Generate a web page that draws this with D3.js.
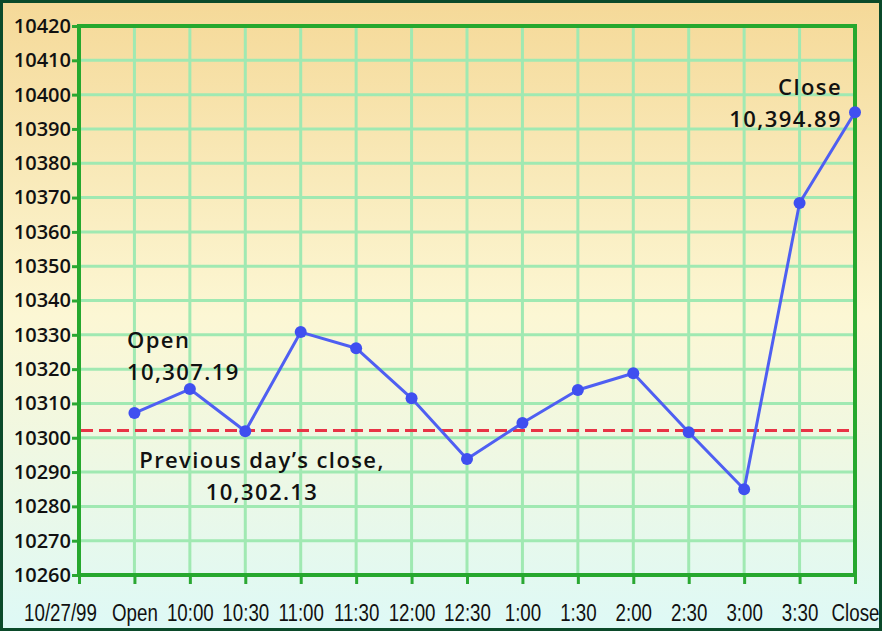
<!DOCTYPE html>
<html>
<head>
<meta charset="utf-8">
<script src="https://cdn.jsdelivr.net/npm/d3@7"></script>
<style>
  body { margin: 0; padding: 0; }
  svg { display: block; }
</style>
</head>
<body>
<div id="chart"></div>
<script>
const W = 882, H = 631
const MARGIN = { TOP: 26, BOTTOM: 56, LEFT: 79, RIGHT: 27 }
const NARROW = 0.78  // horizontal squeeze for the condensed time labels

// x categories (first one is the date label at the axis origin)
const timeLabels = ['10/27/99', 'Open', '10:00', '10:30', '11:00', '11:30', '12:00', '12:30',
                    '1:00', '1:30', '2:00', '2:30', '3:00', '3:30', 'Close']
const pointLabels = timeLabels.slice(1)
const dowValues = [10307.19, 10314.2, 10301.9, 10330.8, 10326.1, 10311.5, 10293.8,
                   10304.3, 10313.9, 10318.8, 10301.6, 10285.0, 10368.4, 10394.89]
const prevClose = 10302.13
const yTicks = d3.range(10260, 10421, 10)

const svg = d3.select('#chart')
    .append('svg')
        .attr('width', W)
        .attr('height', H)

// background gradient
const grad = svg.append('defs').append('linearGradient')
    .attr('id', 'bg')
    .attr('x1', 0).attr('y1', 0).attr('x2', 0).attr('y2', 1)
grad.append('stop').attr('offset', '0%').attr('stop-color', '#f5d998')
grad.append('stop').attr('offset', '50%').attr('stop-color', '#fcf7d4')
grad.append('stop').attr('offset', '100%').attr('stop-color', '#def9f6')

svg.append('rect')
    .attr('x', 1.5).attr('y', 1.5)
    .attr('width', W - 3).attr('height', H - 3)
    .attr('fill', 'url(#bg)')
    .attr('stroke', '#0b4a2a')
    .attr('stroke-width', 3)

const x = d3.scalePoint()
    .domain(timeLabels)
    .range([MARGIN.LEFT, W - MARGIN.RIGHT])

const y = d3.scaleLinear()
    .domain([10260, 10420])
    .range([H - MARGIN.BOTTOM, MARGIN.TOP])

const plotW = W - MARGIN.RIGHT - MARGIN.LEFT
const plotH = H - MARGIN.BOTTOM - MARGIN.TOP

// grid lines
const grid = svg.append('g')
    .attr('stroke', '#a0e9b2')
    .attr('stroke-width', 3)
grid.selectAll('.hgrid')
    .data(yTicks)
    .enter().append('line')
        .attr('x1', MARGIN.LEFT).attr('x2', W - MARGIN.RIGHT)
        .attr('y1', d => y(d)).attr('y2', d => y(d))
grid.selectAll('.vgrid')
    .data(pointLabels)
    .enter().append('line')
        .attr('x1', d => x(d)).attr('x2', d => x(d))
        .attr('y1', MARGIN.TOP).attr('y2', H - MARGIN.BOTTOM)

// axes
const xAxisGroup = svg.append('g')
    .attr('transform', `translate(0, ${ H - MARGIN.BOTTOM })`)
    .call(d3.axisBottom(x).tickSize(9))
const yAxisGroup = svg.append('g')
    .attr('transform', `translate(${ MARGIN.LEFT }, 0)`)
    .call(d3.axisLeft(y).tickValues(yTicks).tickFormat(d3.format('d')).tickSize(7).tickPadding(1))

svg.selectAll('.domain').remove()
svg.selectAll('.tick line')
    .attr('stroke', '#2aa832')
    .attr('stroke-width', 3)

xAxisGroup.selectAll('text')
    .attr('fill', '#111')
    .style('font-family', "'Liberation Sans', Arial, sans-serif")
    .style('font-size', '24px')
    .attr('y', 46)
    .attr('dy', 0)
    .attr('transform', `scale(${ NARROW }, 1)`)
xAxisGroup.selectAll('.tick')
    .filter(d => d === timeLabels[0])
    .select('text')
        .attr('dx', -19 / NARROW)

yAxisGroup.selectAll('text')
    .attr('fill', '#111')
    .style('font-family', "'Open Sans', sans-serif")
    .style('font-weight', 600)
    .style('font-size', '20px')

// frame
svg.append('rect')
    .attr('x', MARGIN.LEFT).attr('y', MARGIN.TOP)
    .attr('width', plotW).attr('height', plotH)
    .attr('fill', 'none')
    .attr('stroke', '#26a82e')
    .attr('stroke-width', 4)

// previous close
svg.append('line')
    .attr('x1', MARGIN.LEFT + 2).attr('x2', W - MARGIN.RIGHT - 2)
    .attr('y1', y(prevClose)).attr('y2', y(prevClose))
    .attr('stroke', '#e83446')
    .attr('stroke-width', 3)
    .attr('stroke-dasharray', '12,6')

// data line
const line = d3.line()
    .x((d, i) => x(pointLabels[i]))
    .y(d => y(d))

svg.append('path')
    .datum(dowValues)
    .attr('d', line)
    .attr('fill', 'none')
    .attr('stroke', '#4f5ff2')
    .attr('stroke-width', 3)
    .attr('stroke-linejoin', 'round')

svg.selectAll('.dot')
    .data(dowValues)
    .enter().append('circle')
        .attr('cx', (d, i) => x(pointLabels[i]))
        .attr('cy', d => y(d))
        .attr('r', 6)
        .attr('fill', '#3f4ff0')

// annotations
const notes = [
    { lines: ['Open', '10,307.19'], x: 127, y: 348, anchor: 'start' },
    { lines: ['Previous day\u2019s close,', '10,302.13'], x: 262, y: 468, anchor: 'middle' },
    { lines: ['Close', '10,394.89'], x: 842, y: 95, anchor: 'end' }
]
notes.forEach(n => {
    const t = svg.append('text')
        .attr('x', n.x).attr('y', n.y)
        .attr('text-anchor', n.anchor)
        .attr('fill', '#111')
        .style('font-family', "'Open Sans', sans-serif")
        .style('font-weight', 600)
        .style('font-size', '22px')
        .style('letter-spacing', '1.4px')
    n.lines.forEach((l, i) => {
        t.append('tspan')
            .attr('x', n.x)
            .attr('dy', i === 0 ? 0 : 32)
            .text(l)
    })
})
</script>
</body>
</html>
